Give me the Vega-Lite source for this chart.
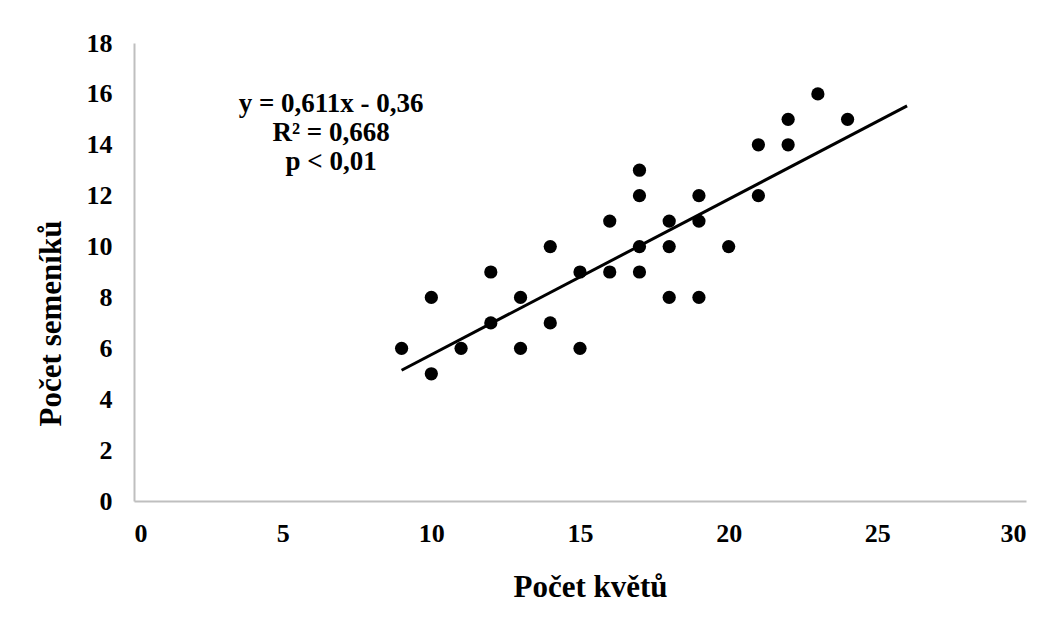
{
  "$schema": "https://vega.github.io/schema/vega-lite/v6.json",
  "width": 892,
  "height": 458,
  "autosize": "none",
  "padding": {"left": 134, "top": 43, "right": 28, "bottom": 116},
  "background": "white",
  "config": {
    "view": {"stroke": null},
    "font": "Liberation Serif",
    "axis": {
      "grid": false,
      "ticks": false,
      "tickSize": 0,
      "domainColor": "#BFBFBF",
      "domainWidth": 2,
      "labelFont": "Liberation Serif",
      "labelFontWeight": "bold",
      "labelFontSize": 26,
      "labelColor": "black",
      "titleFont": "Liberation Serif",
      "titleFontWeight": "bold",
      "titleFontSize": 31,
      "titleColor": "black"
    }
  },
  "datasets": {
    "points": [
      {"kvety": 9, "semeniky": 6},
      {"kvety": 10, "semeniky": 8},
      {"kvety": 10, "semeniky": 5},
      {"kvety": 11, "semeniky": 6},
      {"kvety": 12, "semeniky": 9},
      {"kvety": 12, "semeniky": 7},
      {"kvety": 13, "semeniky": 8},
      {"kvety": 13, "semeniky": 6},
      {"kvety": 14, "semeniky": 10},
      {"kvety": 14, "semeniky": 7},
      {"kvety": 15, "semeniky": 9},
      {"kvety": 15, "semeniky": 6},
      {"kvety": 16, "semeniky": 11},
      {"kvety": 16, "semeniky": 9},
      {"kvety": 17, "semeniky": 13},
      {"kvety": 17, "semeniky": 12},
      {"kvety": 17, "semeniky": 10},
      {"kvety": 17, "semeniky": 9},
      {"kvety": 18, "semeniky": 11},
      {"kvety": 18, "semeniky": 10},
      {"kvety": 18, "semeniky": 8},
      {"kvety": 19, "semeniky": 12},
      {"kvety": 19, "semeniky": 11},
      {"kvety": 19, "semeniky": 8},
      {"kvety": 20, "semeniky": 10},
      {"kvety": 21, "semeniky": 14},
      {"kvety": 21, "semeniky": 12},
      {"kvety": 22, "semeniky": 15},
      {"kvety": 22, "semeniky": 14},
      {"kvety": 23, "semeniky": 16},
      {"kvety": 24, "semeniky": 15}
    ],
    "trend": [
      {"kvety": 9, "semeniky": 5.139},
      {"kvety": 26, "semeniky": 15.526}
    ],
    "note": [
      {"label": ["y = 0,611x - 0,36", "R² = 0,668", "p < 0,01"]}
    ]
  },
  "layer": [
    {
      "data": {"name": "points"},
      "mark": {"type": "point", "filled": true, "shape": "circle", "size": 175, "color": "black", "opacity": 1},
      "encoding": {
        "x": {
          "field": "kvety", "type": "quantitative",
          "scale": {"domain": [0, 30], "nice": false, "zero": true},
          "axis": {"values": [0, 5, 10, 15, 20, 25, 30], "labelPadding": 19, "title": "Počet květů", "titleY": 71, "titleX": 456}
        },
        "y": {
          "field": "semeniky", "type": "quantitative",
          "scale": {"domain": [0, 18], "nice": false},
          "axis": {"values": [0, 2, 4, 6, 8, 10, 12, 14, 16, 18], "labelPadding": 22, "title": "Počet semeníků", "titleX": -67, "titleY": 280}
        }
      }
    },
    {
      "data": {"name": "trend"},
      "mark": {"type": "line", "color": "black", "strokeWidth": 3},
      "encoding": {
        "x": {"field": "kvety", "type": "quantitative"},
        "y": {"field": "semeniky", "type": "quantitative"}
      }
    },
    {
      "data": {"name": "note"},
      "mark": {"type": "text", "font": "Liberation Serif", "fontWeight": "bold", "fontSize": 27, "lineHeight": 29, "align": "center", "baseline": "top", "color": "black"},
      "encoding": {
        "x": {"datum": 6.63, "type": "quantitative"},
        "y": {"datum": 16.13, "type": "quantitative"},
        "text": {"field": "label"}
      }
    }
  ]
}
